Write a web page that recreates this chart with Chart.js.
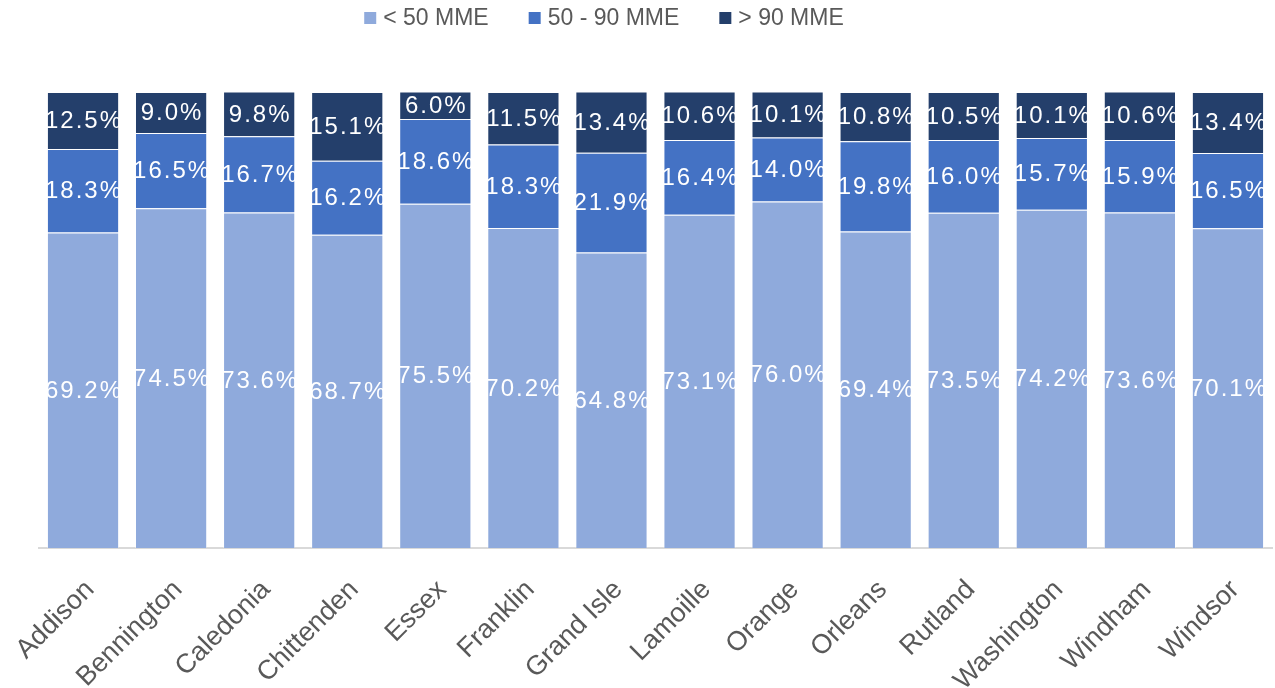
<!DOCTYPE html>
<html>
<head>
<meta charset="utf-8">
<script src="https://cdn.jsdelivr.net/npm/chart.js@4"></script>
<style>
  html, body { margin: 0; padding: 0; background: #fff; }
  #wrap { width: 1275px; height: 688px; position: relative; }
</style>
</head>
<body>
<div id="wrap"><canvas id="mmeChart"></canvas></div>
<script>
// Counties and share of prescriptions in each MME band (%)
const counties = ['Addison', 'Bennington', 'Caledonia', 'Chittenden', 'Essex', 'Franklin', 'Grand Isle',
  'Lamoille', 'Orange', 'Orleans', 'Rutland', 'Washington', 'Windham', 'Windsor'];
const under50 = [69.2, 74.5, 73.6, 68.7, 75.5, 70.2, 64.8, 73.1, 76.0, 69.4, 73.5, 74.2, 73.6, 70.1];
const from50to90 = [18.3, 16.5, 16.7, 16.2, 18.6, 18.3, 21.9, 16.4, 14.0, 19.8, 16.0, 15.7, 15.9, 16.5];
const over90 = [12.5, 9.0, 9.8, 15.1, 6.0, 11.5, 13.4, 10.6, 10.1, 10.8, 10.5, 10.1, 10.6, 13.4];

const seriesLabels = ['< 50 MME', '50 - 90 MME', '> 90 MME'];
const seriesColors = ['#8FAADC', '#4472C4', '#243F6B'];

const FONT = '"Liberation Sans", Arial, sans-serif';

// white % labels centred in each segment, clipped to the bar
const segmentLabels = {
  id: 'segmentLabels',
  afterDatasetsDraw(chart) {
    const ctx = chart.ctx;
    chart.data.datasets.forEach((ds, i) => {
      const meta = chart.getDatasetMeta(i);
      meta.data.forEach((bar, j) => {
        const p = bar.getProps(['x', 'y', 'base', 'width'], true);
        ctx.save();
        ctx.beginPath();
        ctx.rect(p.x - p.width / 2, p.y, p.width, p.base - p.y);
        ctx.clip();
        ctx.fillStyle = '#fff';
        ctx.font = '24px ' + FONT;
        ctx.letterSpacing = '2px';
        ctx.textAlign = 'center';
        ctx.textBaseline = 'middle';
        ctx.fillText(ds.data[j].toFixed(1) + '%', p.x + 1, (p.y + p.base) / 2 + 1);
        ctx.restore();
      });
    });
  }
};

// legend row across the top: small square, tight gap, then the label
const topLegend = {
  id: 'topLegend',
  afterDraw(chart) {
    const ctx = chart.ctx;
    const box = 12, gap = 7, itemGap = 40, cy = 18, centreX = 604;
    ctx.save();
    ctx.font = '23px ' + FONT;
    ctx.textBaseline = 'middle';
    const items = chart.data.datasets.map(ds => ({
      text: ds.label, color: ds.backgroundColor, w: ctx.measureText(ds.label).width
    }));
    const total = items.reduce((s, it) => s + box + gap + it.w, 0) + itemGap * (items.length - 1);
    let x = centreX - total / 2;
    items.forEach(it => {
      ctx.fillStyle = it.color;
      ctx.fillRect(x, cy - box / 2, box, box);
      ctx.fillStyle = '#595959';
      ctx.fillText(it.text, x + box + gap, cy + 1);
      x += box + gap + it.w + itemGap;
    });
    ctx.restore();
  }
};

new Chart(document.getElementById('mmeChart'), {
  type: 'bar',
  data: {
    labels: counties,
    datasets: [under50, from50to90, over90].map((vals, i) => ({
      label: seriesLabels[i],
      data: vals,
      backgroundColor: seriesColors[i],
      borderColor: 'rgba(255,255,255,0.35)',
      borderWidth: 1,
      borderSkipped: 'bottom',
      categoryPercentage: 1,
      barPercentage: 0.82
    }))
  },
  options: {
    responsive: true,
    maintainAspectRatio: false,
    animation: false,
    layout: { padding: { left: 39, right: 3, top: 92, bottom: 0 } },
    plugins: {
      legend: { display: false },
      tooltip: { enabled: false }
    },
    scales: {
      x: {
        stacked: true,
        grid: { display: false },
        border: { color: '#D9D9D9', width: 2 },
        ticks: {
          color: '#595959', minRotation: 45, maxRotation: 45,
          padding: 18, labelOffset: 7,
          font: { family: FONT, size: 27 }
        },
        // fixed band for the slanted names; plot edges come from layout padding only
        afterFit(axis) {
          axis.height = 140;
          axis.paddingLeft = 0;
          axis.paddingRight = 0;
        }
      },
      y: { stacked: true, display: false, min: 0, max: 100 }
    }
  },
  plugins: [segmentLabels, topLegend]
});
</script>
</body>
</html>
